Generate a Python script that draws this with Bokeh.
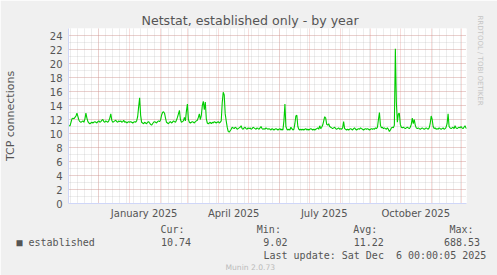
import pandas as pd
from bokeh.plotting import figure
from bokeh.models import (Range1d, FixedTicker, SingleIntervalTicker, DatetimeTickFormatter, Title)
from bokeh.embed import file_html
from bokeh.resources import INLINE

# ---------------- data ----------------
series_start = "2024-10-31 12:00"   # first daily sample
range_start = "2024-11-01"
range_end = "2025-12-06"

established_nov_dec = [
    11.0, 11.1,
    11.1, 11.6, 12.1, 12.2, 12.1, 12.3, 12.5, 12.9, 12.4, 11.9, 11.7, 11.6, 11.7, 11.8, 11.6, 12.1, 12.9, 12.2, 11.7, 11.5,
    11.4, 11.5, 11.6, 11.5, 11.6, 11.7, 11.6, 11.5, 11.7, 11.8, 11.6, 11.7, 11.9, 12.0, 11.7, 11.6, 11.8, 11.7, 11.6, 11.8,
    12.2, 12.8, 11.9, 11.6, 11.7, 11.8, 11.9, 11.7, 11.6, 11.8, 11.7, 11.8, 11.6, 11.7, 11.9, 11.6, 11.7, 11.5, 11.6, 11.7,
]
established_jan_apr = [
    11.6, 11.7, 11.6, 11.5, 11.6, 11.7, 11.6, 11.8, 12.4, 13.8, 15.1, 12.6, 11.6, 11.5, 11.4, 11.6, 11.5, 11.4, 11.6, 11.7,
    11.5, 11.3, 11.2, 11.4, 11.6, 11.7, 11.6, 11.5, 11.7, 11.8, 11.7, 11.9, 12.6, 13.0, 13.1, 12.9, 12.2, 11.6, 11.5, 11.4,
    11.6, 11.7, 11.5, 11.6, 11.8, 11.7, 11.6, 11.9, 12.3, 12.8, 13.3, 12.0, 11.6, 11.7, 11.8, 12.3, 11.8, 13.2, 14.2, 12.0,
    11.6, 11.5, 11.6, 11.7, 11.6, 11.5, 11.7, 11.8, 11.9, 12.3, 12.8, 12.0, 12.6, 14.0, 14.6, 13.4, 14.5, 12.1, 11.5, 11.4,
    11.5, 11.6, 11.4, 11.6, 11.5, 11.7, 11.6, 11.5, 11.6, 11.7, 11.5, 11.6, 11.8, 14.4, 15.9, 15.5, 12.8, 11.8, 10.9, 10.3,
]
established_apr_aug = [
    10.2, 10.4, 10.6, 10.9, 10.8, 10.7, 10.9, 10.8, 10.6, 10.7, 10.8, 10.9, 11.1, 10.7, 10.6, 10.8, 10.9, 10.7, 10.6, 10.8,
    10.7, 10.8, 10.6, 10.7, 10.9, 10.8, 10.7, 10.6, 10.8, 10.7, 10.6, 10.8, 11.0, 10.7, 10.6, 10.7, 10.6, 10.8, 10.7, 10.6,
    10.7, 10.6, 10.5, 10.7, 10.6, 10.5, 10.6, 10.7, 10.6, 10.5, 10.6, 10.7, 10.5, 10.6, 10.5, 11.8, 14.2, 11.0, 10.6, 10.5,
    10.6, 10.5, 10.9, 10.7, 10.5, 10.6, 11.4, 12.5, 12.6, 11.0, 10.6, 10.5, 10.6, 10.5, 10.6, 10.5, 10.6, 10.7, 10.5, 10.6,
    10.5, 10.6, 10.7, 10.6, 10.5, 10.6, 10.5, 10.6, 10.7, 10.8, 10.6, 11.1, 10.7, 10.9, 11.2, 11.8, 12.4, 12.2, 11.3, 11.2,
    11.4, 11.0, 10.9, 10.8, 10.7, 10.8, 10.9, 10.7, 10.6, 10.7, 10.8, 10.6, 10.7, 10.6, 10.8, 11.7, 10.7, 10.6, 10.5, 10.6,
]
established_aug_dec = [
    10.5, 10.6, 10.7, 10.6, 10.5, 10.7, 10.8, 10.6, 10.5, 10.6, 10.7, 10.6, 10.8, 10.7, 10.6, 10.5, 10.6, 10.7, 10.6, 10.7,
    10.6, 10.5, 10.6, 10.7, 10.6, 10.7, 10.6, 10.8, 10.7, 10.9, 12.0, 13.0, 11.2, 10.8, 10.9, 10.7, 10.8, 10.7, 10.6, 10.8,
    10.6, 10.3, 10.5, 10.8, 10.9, 10.8, 11.2, 22.1, 14.5, 11.6, 12.8, 12.9, 11.3, 10.9, 10.8, 10.9, 10.8, 10.7, 10.8, 10.9,
    10.8, 10.7, 10.9, 11.3, 12.2, 11.4, 12.0, 11.2, 10.8, 10.7, 10.8, 10.7, 10.6, 10.7, 10.8, 10.7, 10.6, 10.7, 10.8, 10.7,
    10.6, 10.8, 11.4, 12.5, 12.0, 11.0, 10.7, 10.8, 10.6, 10.7, 10.6, 10.8, 10.7, 10.6, 10.7, 10.8, 10.6, 10.7, 10.9, 11.4,
    12.8, 11.0, 10.8, 10.7, 10.8, 10.9, 10.7, 11.1, 10.8, 10.7, 10.8, 10.9, 10.8, 11.0, 10.8, 10.7, 10.9, 11.1, 10.8, 10.74,
    10.74,
]

x_label_months = ["2025-01-16", "2025-04-16", "2025-07-16", "2025-10-16"]
y_range_max = 25

title_text = "Netstat, established only - by year"
y_label_text = "TCP connections"
series_name = "established"
stat_headers = ["Cur:", "Min:", "Avg:", "Max:"]
stat_values = ["10.74", "9.02", "11.22", "688.53"]
last_update_text = "Last update: Sat Dec \u00a06 00:00:05 2025"
side_text = "RRDTOOL / TOBI OETIKER"
footer_text = "Munin 2.0.73"

# ---------------- build ----------------
vals = established_nov_dec + established_jan_apr + established_apr_aug + established_aug_dec
dates = pd.date_range(series_start, periods=len(vals), freq="D")

def ms(ts):
    return pd.Timestamp(ts).value // 10**6

month_starts = [ms(t) for t in pd.date_range(range_start, range_end, freq="MS")]
sundays = [ms(t) for t in pd.date_range(range_start, range_end, freq="W-SUN")]

W, H = 497, 275
FL, FT, FH, FW = 66, 28, 175, 400
BG = "#F0F0F0"
TXT = "#555555"
NB = "\u00a0"

p = figure(width=W, height=H, x_axis_type="datetime", output_backend="svg",
           toolbar_location=None,
           x_range=Range1d(pd.Timestamp(range_start), pd.Timestamp(range_end)),
           y_range=Range1d(0, y_range_max),
           min_border_left=FL, min_border_right=W - FL - FW,
           min_border_top=FT, min_border_bottom=H - FT - FH)
p.background_fill_color = "#FFFFFF"
p.border_fill_color = BG
p.outline_line_color = None

# grids: monthly (major, red) and weekly (minor, grey); every 2 / every 1 on y
p.xgrid.ticker = FixedTicker(ticks=month_starts, minor_ticks=sundays)
p.ygrid.ticker = SingleIntervalTicker(interval=2, num_minor_ticks=2)
for g in (p.xgrid[0], p.ygrid[0]):
    g.grid_line_color = "#E07870"
    g.grid_line_alpha = 0.5
    g.grid_line_dash = "1 1"
    g.minor_grid_line_color = "#B0B0B0"
    g.minor_grid_line_alpha = 0.45
    g.minor_grid_line_dash = "1 1"

# axes
p.yaxis.ticker = SingleIntervalTicker(interval=2, num_minor_ticks=2)
p.xaxis.ticker = FixedTicker(ticks=[ms(t) for t in x_label_months])
fmt = "%B %Y"
p.xaxis.formatter = DatetimeTickFormatter(years=fmt, months=fmt, days=fmt, hours=fmt,
                                          minutes=fmt, seconds=fmt, milliseconds=fmt,
                                          microseconds=fmt, hourmin=fmt, minsec=fmt)
for ax in (p.xaxis[0], p.yaxis[0]):
    ax.axis_line_color = "#CFD6F8"
    ax.major_tick_line_color = None
    ax.minor_tick_line_color = None
    ax.major_tick_out = 0
    ax.major_tick_in = 0
    ax.minor_tick_out = 0
    ax.minor_tick_in = 0
    ax.major_label_text_font = "DejaVu Sans"
    ax.major_label_text_font_size = "10px"
    ax.major_label_text_color = TXT
p.yaxis.major_label_standoff = 6
p.xaxis.major_label_standoff = 4
p.yaxis.axis_label = y_label_text
p.yaxis.axis_label_text_font = "DejaVu Sans"
p.yaxis.axis_label_text_font_size = "11px"
p.yaxis.axis_label_text_font_style = "normal"
p.yaxis.axis_label_text_color = TXT
p.yaxis.axis_label_standoff = 30

p.line(dates, vals, line_color="#00CC00", line_width=1.1)

# title and side credit
p.title = Title(text=title_text, align="left", offset=139 - FL, text_font="DejaVu Sans",
                text_font_size="12.6px", text_font_style="normal", text_color=TXT,
                standoff=2)
p.add_layout(Title(text=side_text, align="left", offset=15 - FT, text_font="DejaVu Sans",
                   text_font_size="7px", text_font_style="normal", text_color="#C4C4C4",
                   standoff=18), "right")

# ---------------- legend rows below the x axis (monospace columns) ----------------
mono = "DejaVu Sans Mono"
msz = "10px"

def pad_row(items, cols):
    s = ""
    for it, c in zip(items, cols):
        s += NB * (c - len(s)) + it
    return s

header_row = pad_row(stat_headers, [0, 16, 32, 48])
value_row = pad_row(["\u25a0", series_name] + stat_values, [0, 2, 24, 41, 56, 71])

rows = [
    (header_row, 158, mono, msz, TXT, 0),
    (value_row, 14, mono, msz, TXT, 0),
    (last_update_text, 261, mono, msz, TXT, 0),
    (footer_text, 223, "DejaVu Sans", "7.6px", "#BBBBBB", 1),
]
for text, x, font, size, color, so in rows:
    p.add_layout(Title(text=text, align="left", offset=x - FL, text_font=font,
                       text_font_size=size, text_font_style="normal", text_color=color,
                       standoff=so), "below")

open("out.html", "w").write(file_html(p, INLINE))
